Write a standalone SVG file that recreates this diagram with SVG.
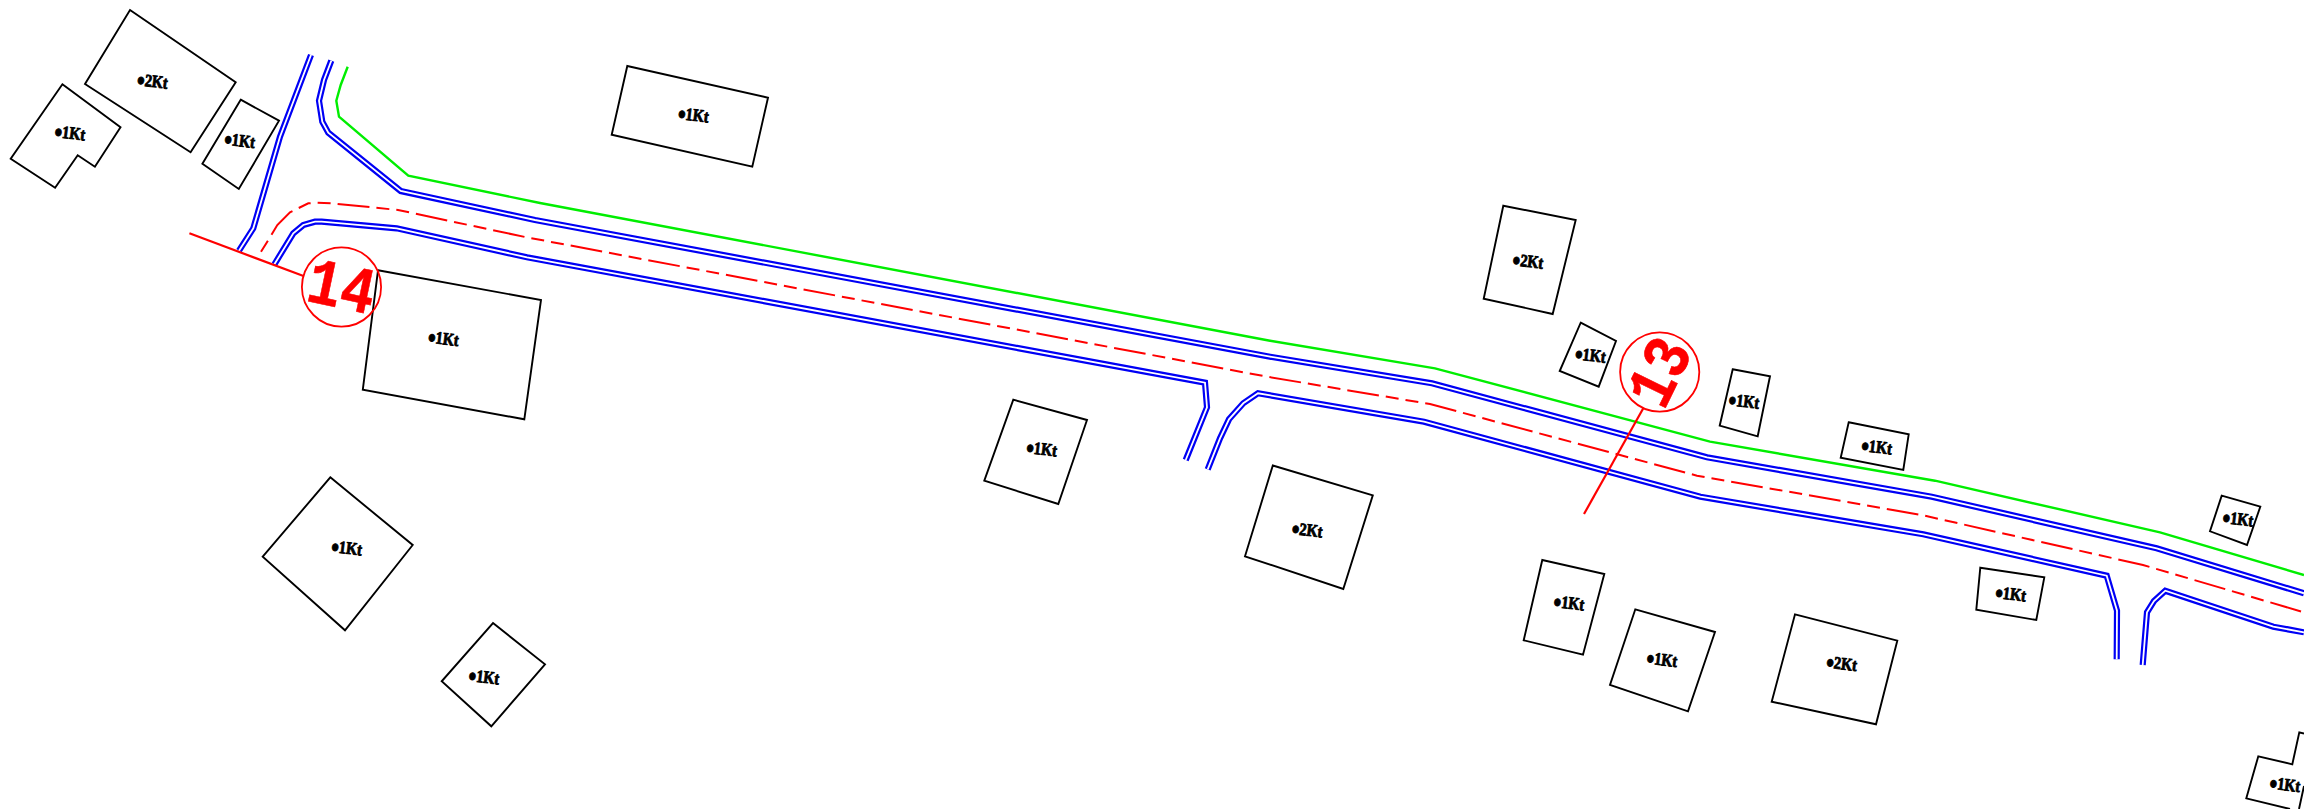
<svg xmlns="http://www.w3.org/2000/svg" width="2304" height="809" viewBox="0 0 2304 809">
<style>
.h{fill:none;stroke:#000;stroke-width:1.9;stroke-linejoin:miter}
.l{font-family:"Liberation Serif",serif;font-weight:bold;font-size:17.5px;fill:#000;stroke:#000;stroke-width:.9}
.b{font-size:27px}
.bo{fill:none;stroke:#0000f5;stroke-width:6.2}
.wi{fill:none;stroke:#fff;stroke-width:1.8}
.g{fill:none;stroke:#00ee00;stroke-width:2.4}
.d{fill:none;stroke:#f00;stroke-width:2;stroke-dasharray:13 7 32 7 13 7}
.s{fill:none;stroke:#f00;stroke-width:2.2}
.c{fill:none;stroke:#f00;stroke-width:1.8}
.n{font-family:"Liberation Mono",monospace;font-weight:bold;font-size:66px;fill:#f00;stroke:#f00;stroke-width:.6;text-anchor:middle}
</style>
<defs>
<g id="t1"><text class="l" x="-4.5" y="5.5" transform="scale(.82,1)"><tspan class="b" dy="4">•</tspan><tspan dy="-4">1Kt</tspan></text></g>
<g id="t2"><text class="l" x="-4.5" y="5.5" transform="scale(.82,1)"><tspan class="b" dy="4">•</tspan><tspan dy="-4">2Kt</tspan></text></g>
<path id="ra" d="M311,55 L280,136.7 L253.3,228.3 L239,250.7"/>
<path id="rb" d="M331.3,60.7 L324,80 L319,100.7 L322.3,121.7 L328.3,132.7 L400.7,191 L535,220 L1270,356.7 L1432,383.3 L1707,457.3 L1931.7,496.7 L2156.7,548.3 L2304,593.3"/>
<path id="rc" d="M274.4,264.3 L293.3,233.3 L303.3,225 L315,221.7 L321.7,221.7 L396.7,228.3 L527,257.3 L1205,382.7 L1207,407.3 L1185.7,460"/>
<path id="rd" d="M1207.7,469.3 L1220,438.3 L1229,419.3 L1243.3,403.3 L1258,393.3 L1424,421.7 L1700.4,496.7 L1923.3,534.3 L2106.7,575.7 L2117,610.7 L2116.7,659.3"/>
<path id="re" d="M2142.7,665 L2147,612.3 L2154,601 L2165.3,590.7 L2273.3,626.7 L2304,632.3"/>
</defs>
<rect width="2304" height="809" fill="#fff"/>
<g id="connectors">
<use href="#ra" class="bo"/><use href="#ra" class="wi"/>
<use href="#rb" class="bo"/><use href="#rb" class="wi"/>
<use href="#rc" class="bo"/><use href="#rc" class="wi"/>
<use href="#rd" class="bo"/><use href="#rd" class="wi"/>
<use href="#re" class="bo"/><use href="#re" class="wi"/>
<path class="g" d="M347.7,66.7 L340.7,85 L336.3,100.7 L339,116.7 L408.3,175.7 L540,203 L1270,340.7 L1435,368.3 L1710,441.7 L1935,480.7 L2160,532.3 L2304,575"/>
<path class="d" d="M261,251.7 L268.3,240 L277.3,225 L290,212.3 L308.3,203.3 L316.7,202.7 L331.7,203.3 L398,210 L525,237 L1267,376.7 L1430,404 L1697,475.7 L1921.7,515 L2143,565 L2304,612.3"/>
<path class="s" d="M189.4,233.3 L303.5,276"/>
<path class="s" d="M1643.3,408.3 L1584,514"/>
</g>
<g id="n1"><polygon class="h" points="130,10 235.7,82.3 190.6,152.3 85,84"/><use href="#t2" transform="translate(140.8,80) rotate(7)"/></g>
<g id="n2"><polygon class="h" points="62.4,84.3 120.5,127.3 94.9,166.7 77.7,155.3 55.1,187.7 10.7,158.7"/><use href="#t1" transform="translate(58.2,131.7) rotate(7)"/></g>
<g id="n3"><polygon class="h" points="240.7,99.7 279,120.7 238.8,189 202.4,163.7"/><use href="#t1" transform="translate(228,139.3) rotate(7)"/></g>
<g id="n4"><polygon class="h" points="378,270.3 541,300 524.3,419.3 362.8,389.7"/><use href="#t1" transform="translate(431.7,337.3) rotate(7)"/></g>
<g id="n5"><polygon class="h" points="627.3,66 768,97.7 752.3,166.7 611.7,134.7"/><use href="#t1" transform="translate(681.7,113.7) rotate(7)"/></g>
<g id="n6"><polygon class="h" points="330.3,477.3 412.7,545 345,630.3 262.7,556.7"/><use href="#t1" transform="translate(335,546.7) rotate(7)"/></g>
<g id="n7"><polygon class="h" points="493,623 545,664.3 491.3,726.3 441.7,681.3"/><use href="#t1" transform="translate(472.3,675.7) rotate(7)"/></g>
<g id="n8"><polygon class="h" points="1013.3,399.7 1087,420 1058.3,504 984.3,480.7"/><use href="#t1" transform="translate(1030,447.7) rotate(7)"/></g>
<g id="n9"><polygon class="h" points="1272.8,465.5 1372.8,495.3 1343.3,589 1245,556.3"/><use href="#t2" transform="translate(1295.5,528.7) rotate(7)"/></g>
<g id="n10"><polygon class="h" points="1503.3,205.7 1575.7,220 1552.7,314 1483.7,298.7"/><use href="#t2" transform="translate(1516.3,260) rotate(7)"/></g>
<g id="n11"><polygon class="h" points="1580.7,322.7 1616,341 1598.7,386.7 1559.7,371"/><use href="#t1" transform="translate(1578.7,354) rotate(7)"/></g>
<g id="n12"><polygon class="h" points="1732.7,369.3 1770,376.3 1757.7,436.3 1719.7,425.7"/><use href="#t1" transform="translate(1732.3,400) rotate(7)"/></g>
<g id="n13"><polygon class="h" points="1848.7,422.3 1908.7,434.3 1903.3,470 1840.7,457.7"/><use href="#t1" transform="translate(1865,445.7) rotate(7)"/></g>
<g id="n14"><polygon class="h" points="1542.3,560 1604.3,574 1583,654.7 1523.7,640.3"/><use href="#t1" transform="translate(1557.3,601.7) rotate(7)"/></g>
<g id="n15"><polygon class="h" points="1635.3,609.3 1715,632 1688,711.3 1610,685"/><use href="#t1" transform="translate(1650.3,658.3) rotate(7)"/></g>
<g id="n16"><polygon class="h" points="1795,614.3 1897.3,640.7 1876,724.3 1771.7,701.7"/><use href="#t2" transform="translate(1830,662.3) rotate(7)"/></g>
<g id="n17"><polygon class="h" points="1980.3,567.7 2044.3,577.3 2036.3,620 1976.3,609.7"/><use href="#t1" transform="translate(1999,592.7) rotate(7)"/></g>
<g id="n18"><polygon class="h" points="2221.7,495.7 2260.3,506.7 2247,545 2210,531.3"/><use href="#t1" transform="translate(2226.3,517.7) rotate(7)"/></g>
<g id="n19"><path class="h" d="M2304,733.5 L2299.3,732.3 L2292.3,764.3 L2258.3,756.3 L2246.3,798.3 L2290,809 M2304,786 L2299,809"/><use href="#t1" transform="translate(2273.3,783.3) rotate(7)"/></g>
<g id="marker14"><circle class="c" cx="341.5" cy="287" r="39.6"/><text class="n" transform="translate(341.5,287) rotate(12) scale(.85,1)" y="21">14</text></g>
<g id="marker13"><circle class="c" cx="1659.7" cy="372" r="39.6"/><text class="n" transform="translate(1659.7,372) rotate(-64) scale(.85,1)" y="21">13</text></g>
</svg>
